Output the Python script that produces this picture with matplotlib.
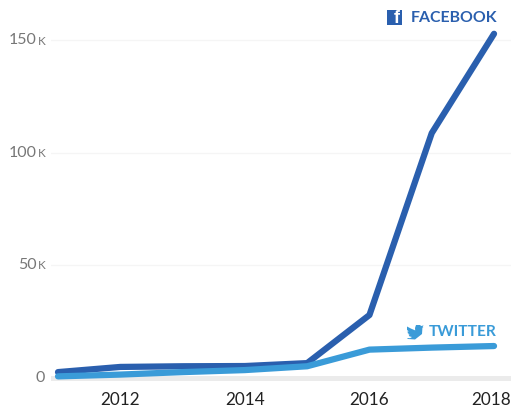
import matplotlib
matplotlib.use('Agg')
from matplotlib import pyplot as plt
from matplotlib.patches import PathPatch, Rectangle
from matplotlib.path import Path
from matplotlib.transforms import ScaledTranslation, blended_transform_factory

plt.rcParams['font.family'] = ['Lato', 'DejaVu Sans']

years = [2011, 2012, 2013, 2014, 2015, 2016, 2017, 2018]
facebook = [2.4, 4.7, 5.0, 5.1, 6.4, 27.8, 108.7, 152.9]
twitter = [0.5, 1.3, 2.4, 3.3, 5.0, 12.4, 13.3, 14.0]
x_ticks = [2012, 2014, 2016, 2018]
y_ticks = [0, 50, 100, 150]

FB_BLUE = '#2a5fae'
TW_BLUE = '#3a9bd8'
W, H = 511, 408
AX_BOTTOM = 385

fig = plt.figure(figsize=(W / 100, H / 100), dpi=100)
# axes run from the gridline start to the right edge, y=0 sits at pixel 377.5
ax = fig.add_axes([51 / W, (H - AX_BOTTOM) / H, (W - 51) / W, AX_BOTTOM / H])
px_year = 62.29
px_k = 2.248
ax.set_xlim(2011 - 7 / px_year, 2011 + (W - 58) / px_year)
ax.set_ylim(-(AX_BOTTOM - 377.5) / px_k, 377.5 / px_k)

for s in ax.spines.values():
    s.set_visible(False)

for v in y_ticks[1:]:
    ax.axhline(v, color='#f5f5f5', lw=1, zorder=1)
ax.axhline(-0.2, color='#ebebeb', lw=3.6, zorder=1)

ax.plot(years, facebook, color=FB_BLUE, lw=4.5, solid_capstyle='round',
        solid_joinstyle='round', zorder=3)
ax.plot(years, twitter, color=TW_BLUE, lw=4.5, solid_capstyle='round',
        solid_joinstyle='round', zorder=4)

ax.set_xticks(x_ticks)
ax.set_xticklabels([str(y) for y in x_ticks], fontsize=12.3, color='#222222')
ax.tick_params(axis='x', length=0, pad=5)
ax.set_yticks([])
# last label sits a little left of its tick so it stays inside the picture
last = ax.get_xticklabels()[-1]
last.set_transform(last.get_transform() + ScaledTranslation(-2.5 / 100, 0, fig.dpi_scale_trans))

# y labels with a small-cap K drawn separately
trans = blended_transform_factory(fig.dpi_scale_trans, ax.transData)
for v in y_ticks:
    if v == 0:
        ax.text(45 / 100, v, '0', transform=trans, ha='right', va='center',
                fontsize=11.5, color='#777777')
    else:
        ax.text(37 / 100, v, str(v), transform=trans, ha='right', va='center',
                fontsize=11.5, color='#777777')
        ax.text(38 / 100, v - 0.4, 'K', transform=trans, ha='left', va='center',
                fontsize=8.5, color='#777777')


def px(x, y):
    return x / W, (H - y) / H


# Facebook label and icon
fig.patches.append(Rectangle(px(387, 25), 15 / W, 15 / H, transform=fig.transFigure,
                             facecolor=FB_BLUE, edgecolor='none'))
fig.text(*px(396.3, 18.5), 'f', color='white', fontsize=13, fontweight='bold',
         ha='center', va='center', family='Liberation Sans')
fig.text(*px(410.5, 18.5), 'FACEBOOK', color=FB_BLUE, fontsize=11.4, fontweight='bold',
         ha='left', va='center')

# Twitter label and bird icon
bird = [(0, 1.5), (4, 3.6), (8.2, 5.4), (8, 3), (9, 0), (13, 0), (14.2, 1),
        (15.5, 0.7), (16.4, 0.2), (16, 1.6), (15, 2.2), (16.4, 2), (15.4, 3),
        (15, 9), (8, 14.5), (1, 14), (0, 13), (3, 13.2), (5, 12), (2.5, 11.4),
        (1.5, 9.5), (2.8, 9.5), (0.8, 8.2), (0.6, 6.2), (2, 6.5), (0, 5), (0, 1.5)]
verts = [(x + 407, H - (y + 325)) for x, y in bird]
fig.patches.append(PathPatch(Path(verts), facecolor=TW_BLUE, edgecolor='none',
                             transform=None))
fig.text(*px(429, 331.5), 'TWITTER', color=TW_BLUE, fontsize=11.2, fontweight='bold',
         ha='left', va='center')

fig.savefig('out.png', dpi=100)
